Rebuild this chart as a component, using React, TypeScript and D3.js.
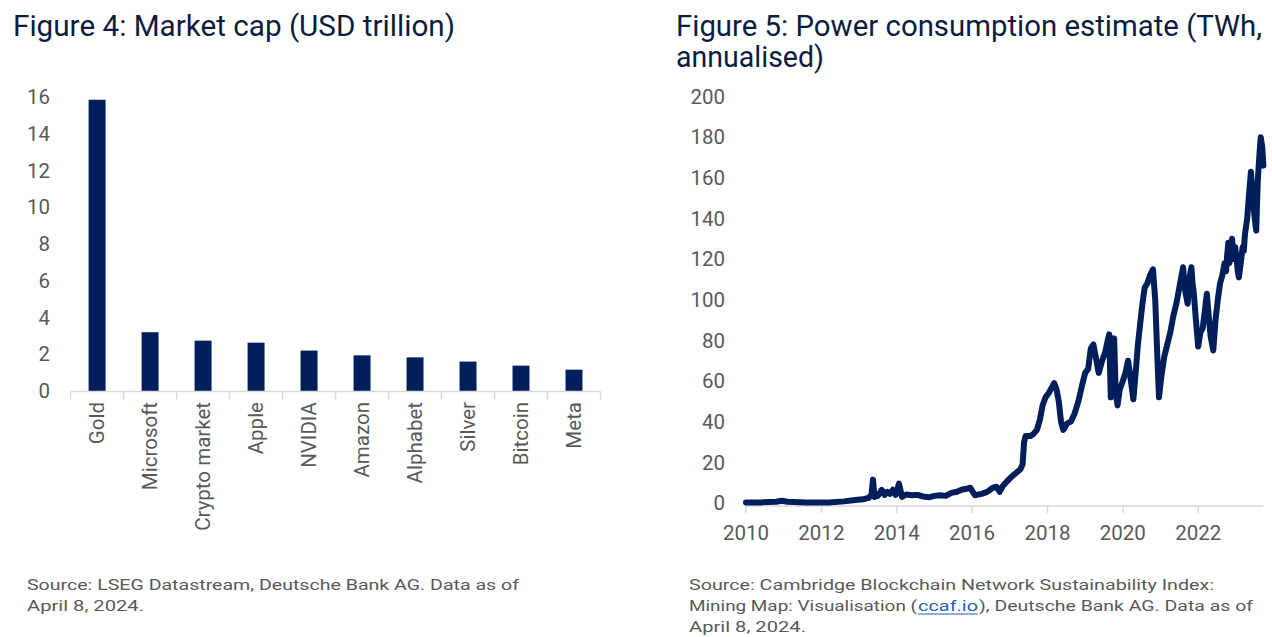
import React from "react";
import * as d3 from "d3";

const categories = ["Gold", "Microsoft", "Crypto market", "Apple", "NVIDIA", "Amazon", "Alphabet", "Silver", "Bitcoin", "Meta"];
const marketCap = [15.85, 3.2, 2.74, 2.63, 2.2, 1.94, 1.83, 1.6, 1.38, 1.16];
const capTicks = [0, 2, 4, 6, 8, 10, 12, 14, 16];

const powerDates = [
  2010.0, 2010.4, 2010.8, 2010.95, 2011.1, 2011.6, 2012.2, 2012.6, 2012.9, 2013.1, 2013.25, 2013.33, 2013.37, 2013.41,
  2013.5, 2013.6, 2013.68, 2013.75, 2013.82, 2013.9, 2013.97, 2014.06, 2014.14, 2014.25, 2014.4, 2014.55, 2014.7,
  2014.85, 2015.0, 2015.15, 2015.3, 2015.45, 2015.6, 2015.72, 2015.85, 2015.95, 2016.02, 2016.08, 2016.25, 2016.4,
  2016.55, 2016.65, 2016.73, 2016.82, 2016.92, 2017.05, 2017.18, 2017.28, 2017.34, 2017.38, 2017.42, 2017.55, 2017.63,
  2017.72, 2017.8, 2017.87, 2017.95, 2018.03, 2018.12, 2018.18, 2018.24, 2018.3, 2018.36, 2018.42, 2018.52, 2018.62,
  2018.72, 2018.82, 2018.92, 2019.0, 2019.08, 2019.15, 2019.22, 2019.3, 2019.36, 2019.45, 2019.53, 2019.6, 2019.64,
  2019.68, 2019.72, 2019.77, 2019.81, 2019.86, 2019.92, 2020.0, 2020.07, 2020.14, 2020.2, 2020.28, 2020.34, 2020.4,
  2020.46, 2020.52, 2020.58, 2020.65, 2020.72, 2020.8, 2020.86, 2020.92, 2020.96, 2021.02, 2021.1, 2021.18, 2021.26,
  2021.34, 2021.42, 2021.5, 2021.56, 2021.6, 2021.63, 2021.66, 2021.72, 2021.78, 2021.82, 2021.85, 2021.88, 2021.94,
  2022.0, 2022.06, 2022.12, 2022.18, 2022.23, 2022.28, 2022.33, 2022.4, 2022.46, 2022.52, 2022.58, 2022.64, 2022.7,
  2022.74, 2022.77, 2022.8, 2022.83, 2022.86, 2022.9, 2022.94, 2022.98, 2023.02, 2023.05, 2023.08, 2023.13, 2023.18,
  2023.21, 2023.24, 2023.3, 2023.35, 2023.4, 2023.45, 2023.5, 2023.54, 2023.58, 2023.62, 2023.66, 2023.7, 2023.73,
];
const powerTWh = [
  0.3, 0.3, 0.6, 1.1, 0.6, 0.3, 0.3, 0.8, 1.5, 1.8, 2.5, 4, 11.5, 3,
  3.5, 6.5, 4, 5.5, 4.5, 6.5, 4, 9.5, 3, 4.2, 3.8, 4, 3.2,
  2.8, 3.5, 3.8, 3.5, 5, 5.5, 6.5, 7, 7.5, 5.5, 3.8, 4.5, 5.5,
  7.5, 8, 5.5, 8.5, 10.5, 13, 15, 16.5, 19, 30, 33, 33, 34,
  36, 41, 48, 52, 54, 57, 59, 56, 50, 40, 36, 39, 40,
  44, 50, 58, 64, 66, 76, 78, 70, 64, 70, 74, 80, 83,
  52, 76, 81, 55, 48, 56, 60, 64, 70, 62, 51, 64, 78,
  88, 98, 106, 108, 112, 115, 100, 70, 52, 62, 72, 78, 84,
  92, 98, 106, 112, 116, 108, 104, 98, 112, 116, 108, 104, 90,
  77, 84, 86, 95, 103, 92, 82, 75, 90, 100, 108, 112, 118,
  114, 122, 128, 118, 126, 130, 120, 126, 120, 114, 111, 118, 126,
  124, 132, 140, 152, 163, 150, 140, 134, 158, 170, 180, 175, 166,
];
const powerTicks = [0, 20, 40, 60, 80, 100, 120, 140, 160, 180, 200];
const yearTicks = [2010, 2012, 2014, 2016, 2018, 2020, 2022];

const NAVY = "#001e5a";
const TITLE = "#0b1d3e";
const GREY = "#595959";
const AXIS = "#d9d9d9";
const NARROW = "Roboto, 'Liberation Sans', sans-serif";
const TICKFONT = "Roboto, 'Open Sans', sans-serif";

export default function App() {
  const xBand = d3.scaleBand<string>().domain(categories).range([70.6, 600.5]).paddingInner(0.68).paddingOuter(0.34);
  const yCap = d3.scaleLinear().domain([0, 16]).range([391, 97]);
  const step = xBand.step();

  const xYear = d3.scaleLinear().domain([2010, 2023.72]).range([746, 1263]);
  const yPow = d3.scaleLinear().domain([0, 200]).range([503, 96.5]);
  const pts = powerDates.map((d, i) => [d, powerTWh[i]] as [number, number]);
  const line = d3
    .line<[number, number]>()
    .x((d) => xYear(d[0]))
    .y((d) => yPow(d[1]))
    .curve(d3.curveLinear);

  const axisY = 391.5;
  const axisY2 = 506;

  return (
    <svg width={1272} height={637} style={{ position: "absolute", left: 0, top: 0, background: "#fff" }}>
      <rect x={0} y={0} width={1272} height={637} fill="#fff" />
      <text x={13} y={36} fontFamily={NARROW} fontSize={29} fill={TITLE} textLength={442} lengthAdjust="spacingAndGlyphs">
        Figure 4: Market cap (USD trillion)
      </text>
      <text x={676} y={36} fontFamily={NARROW} fontSize={29} fill={TITLE} textLength={586} lengthAdjust="spacingAndGlyphs">
        Figure 5: Power consumption estimate (TWh,
      </text>
      <text x={676} y={67} fontFamily={NARROW} fontSize={29} fill={TITLE} textLength={148} lengthAdjust="spacingAndGlyphs">
        annualised)
      </text>

      {capTicks.map((t) => (
        <text key={"cy" + t} x={50} y={yCap(t)} dy="0.35em" textAnchor="end" fontFamily={TICKFONT} fontSize={20.5} fill={GREY}>
          {t}
        </text>
      ))}
      {categories.map((c, i) => (
        <rect key={"b" + c} x={xBand(c)} y={yCap(marketCap[i])} width={xBand.bandwidth()} height={yCap(0) - yCap(marketCap[i])} fill={NAVY} />
      ))}
      <line x1={70.6} x2={600.5} y1={axisY} y2={axisY} stroke={AXIS} strokeWidth={1.5} />
      {d3.range(categories.length + 1).map((i) => (
        <line key={"ct" + i} x1={70.6 + i * step} x2={70.6 + i * step} y1={axisY} y2={axisY + 8} stroke={AXIS} strokeWidth={1.5} />
      ))}
      {categories.map((c) => {
        const cx = (xBand(c) as number) + xBand.bandwidth() / 2;
        return (
          <text
            key={"cl" + c}
            transform={`translate(${cx},${402}) rotate(-90)`}
            dy="0.35em"
            textAnchor="end"
            fontFamily={TICKFONT}
            fontSize={20.5}
            fill={GREY}
          >
            {c}
          </text>
        );
      })}

      {powerTicks.map((t) => (
        <text key={"py" + t} x={725} y={yPow(t)} dy="0.35em" textAnchor="end" fontFamily={TICKFONT} fontSize={20.5} fill={GREY}>
          {t}
        </text>
      ))}
      <line x1={746} x2={1263} y1={axisY2} y2={axisY2} stroke={AXIS} strokeWidth={1.5} />
      {yearTicks.map((yr) => (
        <g key={"yt" + yr}>
          <line x1={xYear(yr)} x2={xYear(yr)} y1={axisY2} y2={axisY2 + 7} stroke={AXIS} strokeWidth={1.5} />
          <text x={xYear(yr)} y={540} textAnchor="middle" fontFamily={TICKFONT} fontSize={20.5} fill={GREY}>
            {yr}
          </text>
        </g>
      ))}
      <path d={line(pts) || ""} fill="none" stroke={NAVY} strokeWidth={6} strokeLinejoin="round" strokeLinecap="round" />

      <text x={27} y={590} fontFamily={NARROW} fontSize={15.5} fill={GREY} textLength={492} lengthAdjust="spacingAndGlyphs">
        Source: LSEG Datastream, Deutsche Bank AG. Data as of
      </text>
      <text x={27} y={611} fontFamily={NARROW} fontSize={15.5} fill={GREY} textLength={117} lengthAdjust="spacingAndGlyphs">
        April 8, 2024.
      </text>
      <text x={689} y={590} fontFamily={NARROW} fontSize={15.5} fill={GREY} textLength={525} lengthAdjust="spacingAndGlyphs">
        Source: Cambridge Blockchain Network Sustainability Index:
      </text>
      <text x={689} y={611} fontFamily={NARROW} fontSize={15.5} fill={GREY} textLength={228} lengthAdjust="spacingAndGlyphs">
        Mining Map: Visualisation (
      </text>
      <text x={918} y={611} fontFamily={NARROW} fontSize={15.5} fill="#1f5fae" textLength={60} lengthAdjust="spacingAndGlyphs">
        ccaf.io
      </text>
      <line x1={918} x2={978} y1={614} y2={614} stroke="#1f5fae" strokeWidth={1} />
      <text x={979} y={611} fontFamily={NARROW} fontSize={15.5} fill={GREY} textLength={274} lengthAdjust="spacingAndGlyphs">
        ), Deutsche Bank AG. Data as of
      </text>
      <text x={689} y={632} fontFamily={NARROW} fontSize={15.5} fill={GREY} textLength={117} lengthAdjust="spacingAndGlyphs">
        April 8, 2024.
      </text>
    </svg>
  );
}
